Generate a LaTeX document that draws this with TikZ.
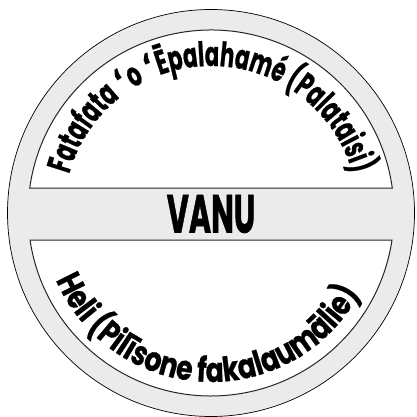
\documentclass[tikz,border=0pt]{standalone}
\usepackage{fontspec}
\newfontfamily\upfont[FakeStretch=0.62, FakeBold=0.6]{Poppins}
\newfontfamily\lowfont[FakeStretch=0.78, FakeBold=0.6]{Poppins}
\newfontfamily\midfont[FakeStretch=0.56, FakeBold=0.8]{Poppins}
\newfontfamily\okfont[FakeStretch=0.9]{DejaVu Sans}
\newcommand\UF{\upfont\bfseries\fontsize{34}{34}\selectfont}
\newcommand\OF{\okfont\bfseries\fontsize{34}{34}\selectfont}
\newcommand\LF{\lowfont\bfseries\fontsize{34}{34}\selectfont}
\usetikzlibrary{decorations.text}
\definecolor{ringgray}{RGB}{235,235,235}
\tikzset{
  ring/.style={fill=ringgray, draw=black, line width=0.7pt},
  segment/.style={fill=white, draw=black!85, line width=1pt},
  curvetext/.style={decorate, decoration={text along path, text align=center, text={#1}}}
}
\begin{document}
\begin{tikzpicture}[x=1pt,y=1pt]
\useasboundingbox (0,0) rectangle (416,417);
\fill[white] (0,0) rectangle (416,417);
\coordinate (c) at (211,204);
\draw[ring] (c) circle[radius=203.5];
\draw[segment] ([shift={(7.85:183)}]c) arc[start angle=7.85, end angle=172.15, radius=183] -- cycle;
\draw[segment] ([shift={(188.49:183)}]c) arc[start angle=188.49, end angle=351.51, radius=183] -- cycle;
\path[curvetext={|\UF|Fatafata |\OF|ʻ|\UF|o |\OF|ʻ|\UF|Ēpalahamé (Palataisi)}]
  ([shift={(180:147)}]c) arc[start angle=180, end angle=0, radius=147];
\path[curvetext={|\LF|Heli (Pilīsone fakalaumālie)}]
  ([shift={(177.5:169)}]c) arc[start angle=177.5, end angle=357.5, radius=169];
\node[font=\midfont\bfseries\fontsize{54}{54}\selectfont, inner sep=0pt] (vanu) at (211,203) {VANU};
\end{tikzpicture}
\end{document}
